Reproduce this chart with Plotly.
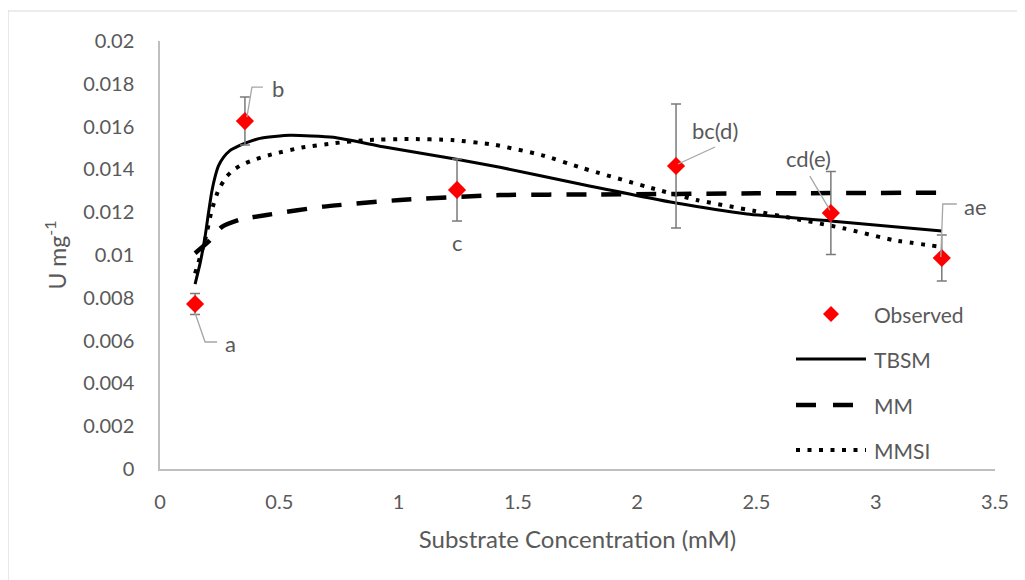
import plotly.graph_objects as go

# ---------------- data ----------------
obs_x = [0.147, 0.356, 1.245, 2.163, 2.812, 3.277]
obs_y = [0.00771, 0.01626, 0.01304, 0.01416, 0.01196, 0.00986]
obs_err = [0.00049, 0.00112, 0.00145, 0.0029, 0.00194, 0.00107]
obs_labels = ["a", "b", "c", "bc(d)", "cd(e)", "ae"]

tbsm_x = [0.147, 0.168, 0.189, 0.203, 0.217, 0.231, 0.245, 0.266, 0.293, 0.328,
          0.363, 0.419, 0.545, 0.727, 0.935, 1.243, 1.425, 1.76, 2.163, 2.46,
          2.81, 3.277]
tbsm_y = [0.00864, 0.00961, 0.01086, 0.01195, 0.01296, 0.01366, 0.01416, 0.01456,
          0.01488, 0.01509, 0.01525, 0.01545, 0.01559, 0.0155, 0.01506, 0.01447,
          0.0141, 0.01332, 0.01243, 0.01192, 0.01159, 0.01112]

mm_x = [0.147, 0.203, 0.258, 0.335, 0.447, 0.685, 1.006, 1.425, 1.83, 2.5, 3.277]
mm_y = [0.01008, 0.01062, 0.0113, 0.01165, 0.01187, 0.01226, 0.01257, 0.0128,
        0.01283, 0.01288, 0.01291]

mmsi_x = [0.147, 0.189, 0.217, 0.245, 0.279, 0.307, 0.342, 0.384, 0.468, 0.594,
          0.727, 0.866, 1.041, 1.223, 1.397, 1.6, 1.774, 2.04, 2.249, 2.487,
          2.654, 2.864, 3.073, 3.269]
mmsi_y = [0.00914, 0.0107, 0.0121, 0.01304, 0.01366, 0.01397, 0.01421, 0.01441,
          0.0147, 0.01502, 0.01522, 0.01537, 0.01542, 0.01537, 0.01516, 0.01467,
          0.01405, 0.01319, 0.01257, 0.01207, 0.01171, 0.01125, 0.0107, 0.01039]

x_ticks = [0, 0.5, 1, 1.5, 2, 2.5, 3, 3.5]
x_tick_text = ["0", "0.5", "1", "1.5", "2", "2.5", "3", "3.5"]
y_ticks = [0, 0.002, 0.004, 0.006, 0.008, 0.01, 0.012, 0.014, 0.016, 0.018, 0.02]
y_tick_text = ["0", "0.002", "0.004", "0.006", "0.008", "0.01", "0.012", "0.014",
               "0.016", "0.018", "0.02"]

legend_names = ["Observed", "TBSM", "MM", "MMSI"]

# ---------------- style ----------------
FONT = "Lato, 'Open Sans', sans-serif"
TXT = "#595959"
OFF = 8                      # default page body margin of the html page
W, H = 1025 - OFF, 580 - OFF
PL, PR, PT, PB = 160, 995, 41, 469   # plot area in page pixels
L, T = PL - OFF, PT - OFF
R = W - (PR - OFF)
B = H - (PB - OFF)
PW, PH = PR - PL, PB - PT


def px_x(px):
    return (px - PL) / PW


def px_y(py):
    return (PB - py) / PH


fig = go.Figure()

fig.add_trace(go.Scatter(x=tbsm_x, y=tbsm_y, mode="lines", name=legend_names[1],
                         line=dict(color="black", width=3, shape="spline", smoothing=0.5),
                         showlegend=False, hoverinfo="skip"))
fig.add_trace(go.Scatter(x=mm_x, y=mm_y, mode="lines", name=legend_names[2],
                         line=dict(color="black", width=4.5, dash="20px,15px",
                                   shape="spline", smoothing=0.5),
                         showlegend=False, hoverinfo="skip"))
fig.add_trace(go.Scatter(x=mmsi_x, y=mmsi_y, mode="lines", name=legend_names[3],
                         line=dict(color="black", width=4, dash="4px,7.5px",
                                   shape="spline", smoothing=0.5),
                         showlegend=False, hoverinfo="skip"))
fig.add_trace(go.Scatter(x=obs_x, y=obs_y, mode="markers", name=legend_names[0],
                         marker=dict(symbol="diamond", size=14, color="#ff0000"),
                         error_y=dict(type="data", array=obs_err, visible=True,
                                      color="#7a7a7a", thickness=1.5, width=5),
                         showlegend=False))

shapes = []
annotations = []

# leader lines + data labels (pixel offsets from each point)
leader_paths = ["M0,-9 L10,-38 L22,-38", "M2,4 L7,34 L18,34", None,
                "M2,2 L39,19", "M-1,3 L-21,37", "M-1,1 L1,54 L15,54"]
label_offsets = [(35, -39), (33, 33), (0, -53), (39, 35), (-22, 55), (34, 52)]
for i, lab in enumerate(obs_labels):
    if leader_paths[i]:
        shapes.append(dict(type="path", xref="x", yref="y", xsizemode="pixel",
                           ysizemode="pixel", xanchor=obs_x[i], yanchor=obs_y[i],
                           path=leader_paths[i],
                           line=dict(color="#a6a6a6", width=1.3)))
    dx, dy = label_offsets[i]
    annotations.append(dict(x=obs_x[i], y=obs_y[i], xref="x", yref="y", text=lab,
                            showarrow=False, xshift=dx, yshift=dy,
                            font=dict(family=FONT, size=22, color=TXT)))

# manual legend
leg_rows = [314, 359, 405, 450]
line_x0, line_x1, text_x = 796, 866, 872
shapes.append(dict(type="path", xref="paper", yref="paper", xsizemode="pixel",
                   ysizemode="pixel", xanchor=px_x(831), yanchor=px_y(leg_rows[0]),
                   path="M-8,0 L0,8 L8,0 L0,-8 Z", fillcolor="#ff0000",
                   line=dict(width=0)))
leg_styles = [dict(color="black", width=3),
              dict(color="black", width=4.5, dash="20px,17px"),
              dict(color="black", width=4, dash="4px,7.5px")]
for k in range(3):
    shapes.append(dict(type="line", xref="paper", yref="paper",
                       x0=px_x(line_x0), x1=px_x(line_x1),
                       y0=px_y(leg_rows[k + 1]), y1=px_y(leg_rows[k + 1]),
                       line=leg_styles[k]))
for k, name in enumerate(legend_names):
    annotations.append(dict(x=px_x(text_x), y=px_y(leg_rows[k]), xref="paper",
                            yref="paper", text=name, showarrow=False,
                            xanchor="left", yanchor="middle",
                            font=dict(family=FONT, size=21, color=TXT)))

# outer chart border
shapes.append(dict(type="rect", xref="paper", yref="paper", x0=px_x(8), x1=px_x(1040),
                   y0=px_y(600), y1=px_y(11), line=dict(color="#d9d9d9", width=1.2),
                   layer="below"))

fig.update_layout(
    width=W, height=H,
    margin=dict(l=L, r=R, t=T, b=B),
    paper_bgcolor="white", plot_bgcolor="white",
    font=dict(family=FONT, size=20, color=TXT),
    showlegend=False,
    shapes=shapes,
    annotations=annotations,
    xaxis=dict(range=[0, 3.5], tickvals=x_ticks, ticktext=x_tick_text,
               showgrid=False, zeroline=False, showline=True, linecolor="#bfbfbf",
               linewidth=1.5, ticks="", ticklabelstandoff=14,
               tickfont=dict(family=FONT, size=20, color=TXT),
               title=dict(text="Substrate Concentration (mM)", standoff=19,
                          font=dict(family=FONT, size=24, color=TXT))),
    yaxis=dict(range=[0, 0.02], tickvals=y_ticks, ticktext=y_tick_text,
               showgrid=False, zeroline=False, showline=True, linecolor="#bfbfbf",
               linewidth=1.5, ticks="", ticklabelstandoff=20,
               tickfont=dict(family=FONT, size=20, color=TXT),
               title=dict(text="U mg<sup>-1</sup>", standoff=10,
                          font=dict(family=FONT, size=23, color=TXT))),
)

fig.write_html("out.html")
